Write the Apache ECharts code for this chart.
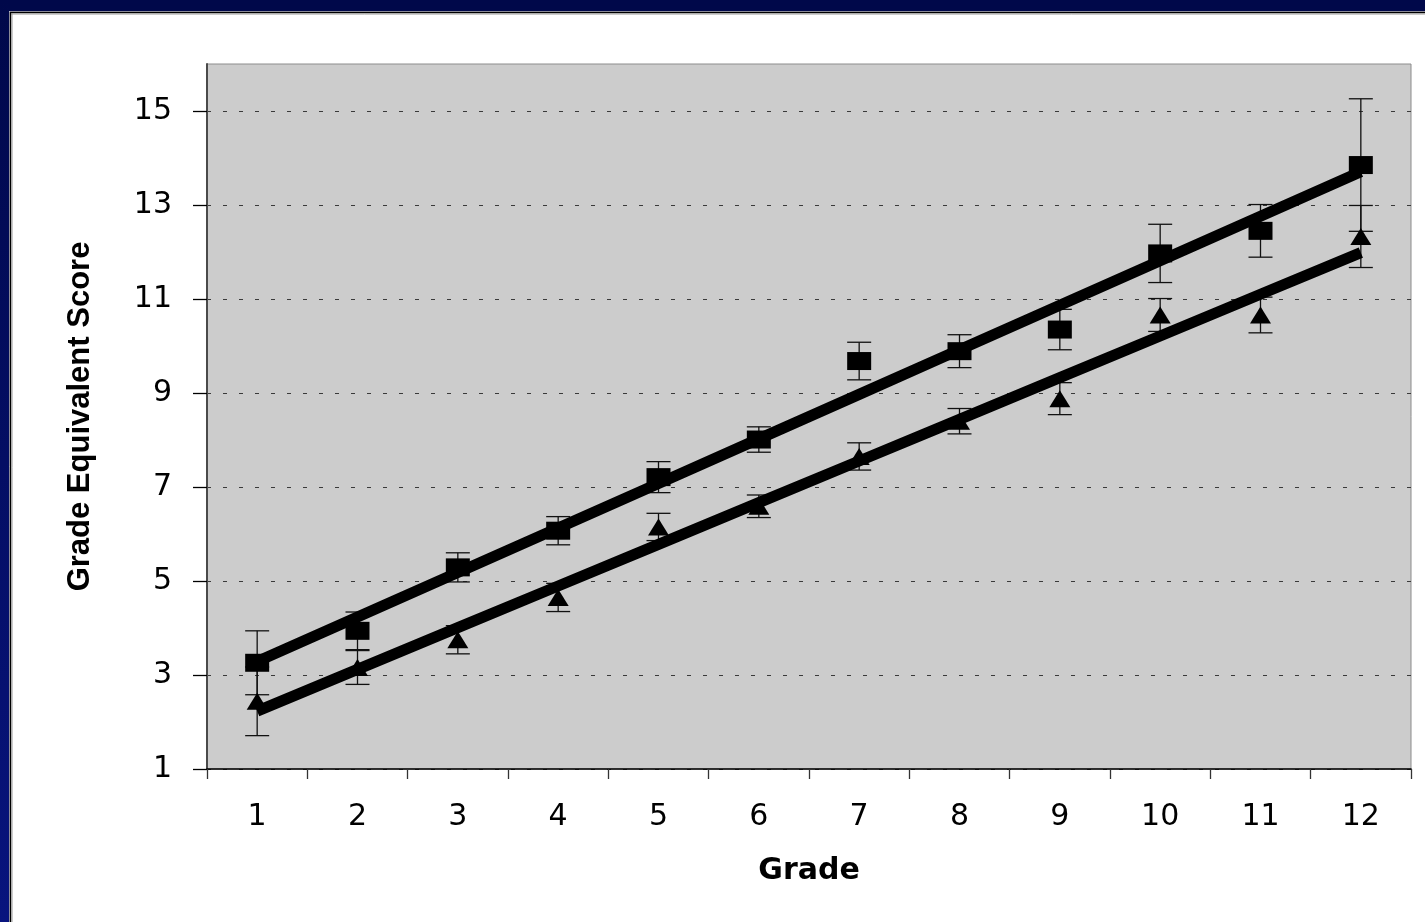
<!DOCTYPE html>
<html>
<head>
<meta charset="utf-8">
<title>Grade Equivalent Score by Grade</title>
<script src="https://cdn.jsdelivr.net/npm/echarts@6/dist/echarts.min.js"></script>
<style>
  html, body { margin: 0; padding: 0; background: #ffffff; }
  #chart { width: 1425px; height: 922px; }
</style>
</head>
<body>
<div id="chart"></div>
<script>
// Grades on the x axis
const grades = ['1', '2', '3', '4', '5', '6', '7', '8', '9', '10', '11', '12'];

// Upper group (square markers): mean score and error-bar half width
const squareScores = [3.26, 3.94, 5.29, 6.07, 7.21, 8.01, 9.68, 9.89, 10.35, 11.97, 12.45, 13.85];
const squareErrors = [0.68, 0.40, 0.31, 0.30, 0.33, 0.27, 0.40, 0.35, 0.43, 0.62, 0.56, 1.41];

// Lower group (triangle markers): mean score and error-bar half width
const triangleScores = [2.44, 3.16, 3.75, 4.65, 6.15, 6.59, 7.65, 8.40, 8.88, 10.66, 10.66, 12.33];
const triangleErrors = [0.73, 0.36, 0.30, 0.30, 0.29, 0.24, 0.29, 0.27, 0.34, 0.35, 0.38, 0.66];

// Y axis tick values
const yTicks = [1, 3, 5, 7, 9, 11, 13, 15];

// Least-squares linear trend evaluated at each grade position
function linearTrend(values) {
  const n = values.length;
  let sx = 0, sy = 0, sxx = 0, sxy = 0;
  values.forEach((v, i) => {
    const x = i + 1;
    sx += x; sy += v; sxx += x * x; sxy += x * v;
  });
  const slope = (n * sxy - sx * sy) / (n * sxx - sx * sx);
  const intercept = (sy - slope * sx) / n;
  return values.map((_, i) => +(intercept + slope * (i + 1)).toFixed(4));
}

function errorData(values, errors) {
  return values.map((v, i) => [i, v, errors[i]]);
}

// Vertical error bar with flat caps
function renderErrorBar(params, api) {
  const idx = api.value(0);
  const val = api.value(1);
  const err = api.value(2);
  const hi = api.coord([idx, val + err]);
  const lo = api.coord([idx, val - err]);
  const half = 12;
  const style = { stroke: '#111111', lineWidth: 1.3 };
  return {
    type: 'group',
    children: [
      { type: 'line', shape: { x1: hi[0], y1: hi[1], x2: lo[0], y2: lo[1] }, style: style },
      { type: 'line', shape: { x1: hi[0] - half, y1: hi[1], x2: hi[0] + half, y2: hi[1] }, style: style },
      { type: 'line', shape: { x1: lo[0] - half, y1: lo[1], x2: lo[0] + half, y2: lo[1] }, style: style }
    ]
  };
}

const chart = echarts.init(document.getElementById('chart'), null, { renderer: 'canvas' });

const tickFont = 'DejaVu Sans';

chart.setOption({
  animation: false,
  backgroundColor: '#ffffff',
  graphic: [
    // navy frame along the top and left edges
    { type: 'rect', shape: { x: 0, y: 0, width: 1425, height: 11 }, style: { fill: '#00084a' }, z: 100 },
    {
      type: 'rect', shape: { x: 0, y: 0, width: 9, height: 922 }, z: 100,
      style: {
        fill: new echarts.graphic.LinearGradient(0, 0, 0, 1, [
          { offset: 0, color: '#00084a' },
          { offset: 1, color: '#08147e' }
        ])
      }
    },
    { type: 'line', shape: { x1: 9, y1: 11.5, x2: 1425, y2: 11.5 }, style: { stroke: '#b8b8c8', lineWidth: 1 }, z: 100 },
    { type: 'line', shape: { x1: 10, y1: 12.5, x2: 1425, y2: 12.5 }, style: { stroke: '#000000', lineWidth: 1.5 }, z: 100 },
    { type: 'line', shape: { x1: 11, y1: 14, x2: 1425, y2: 14 }, style: { stroke: '#9a9a9a', lineWidth: 1 }, z: 100 },
    { type: 'line', shape: { x1: 9.5, y1: 11, x2: 9.5, y2: 922 }, style: { stroke: '#b8b8c8', lineWidth: 1 }, z: 100 },
    { type: 'line', shape: { x1: 10.5, y1: 12, x2: 10.5, y2: 922 }, style: { stroke: '#000000', lineWidth: 1.5 }, z: 100 },
    { type: 'line', shape: { x1: 12, y1: 13, x2: 12, y2: 922 }, style: { stroke: '#9a9a9a', lineWidth: 1 }, z: 100 }
  ],
  grid: {
    left: 207,
    right: 14,
    top: 64,
    bottom: 153,
    show: true,
    backgroundColor: '#cccccc',
    borderColor: '#8c8c8c',
    borderWidth: 1
  },
  xAxis: {
    type: 'category',
    data: grades,
    boundaryGap: true,
    name: 'Grade',
    nameLocation: 'middle',
    nameGap: 87,
    nameTextStyle: { fontFamily: tickFont, fontWeight: 'bold', fontSize: 30, color: '#000000' },
    axisLine: { show: true, lineStyle: { color: '#000000', width: 1.5 } },
    axisTick: { show: true, inside: false, length: 10, alignWithLabel: false, lineStyle: { color: '#333333', width: 1.3 } },
    axisLabel: { margin: 33, fontFamily: tickFont, fontSize: 30, color: '#000000' },
    splitLine: { show: false }
  },
  yAxis: {
    type: 'value',
    min: 1,
    max: 16,
    interval: 2,
    name: 'Grade Equivalent Score',
    nameLocation: 'middle',
    nameGap: 111,
    nameTextStyle: { fontFamily: 'Liberation Sans', fontWeight: 'bold', fontSize: 31, color: '#000000' },
    axisLine: { show: true, lineStyle: { color: '#4a4a4a', width: 2 } },
    axisTick: { show: true, inside: false, length: 14, customValues: yTicks, lineStyle: { color: '#000000', width: 1.3 } },
    axisLabel: { margin: 35, fontFamily: tickFont, fontSize: 30, color: '#000000', customValues: yTicks },
    splitLine: { show: true, lineStyle: { color: '#3a3a3a', width: 1.2, type: [4, 12] } }
  },
  series: [
    {
      name: 'Upper error',
      type: 'custom',
      renderItem: renderErrorBar,
      data: errorData(squareScores, squareErrors),
      encode: { x: 0, y: 1 },
      z: 2,
      silent: true
    },
    {
      name: 'Lower error',
      type: 'custom',
      renderItem: renderErrorBar,
      data: errorData(triangleScores, triangleErrors),
      encode: { x: 0, y: 1 },
      z: 2,
      silent: true
    },
    {
      name: 'Upper trend',
      type: 'line',
      data: linearTrend(squareScores),
      symbol: 'none',
      lineStyle: { color: '#000000', width: 11, cap: 'butt' },
      z: 3,
      silent: true
    },
    {
      name: 'Lower trend',
      type: 'line',
      data: linearTrend(triangleScores),
      symbol: 'none',
      lineStyle: { color: '#000000', width: 11, cap: 'butt' },
      z: 3,
      silent: true
    },
    {
      name: 'Upper group',
      type: 'scatter',
      data: squareScores,
      symbol: 'rect',
      symbolSize: [24, 18],
      itemStyle: { color: '#000000', opacity: 1 },
      z: 4
    },
    {
      name: 'Lower group',
      type: 'scatter',
      data: triangleScores,
      symbol: 'triangle',
      symbolSize: [21, 17],
      itemStyle: { color: '#000000', opacity: 1 },
      z: 4
    }
  ]
});
</script>
</body>
</html>
